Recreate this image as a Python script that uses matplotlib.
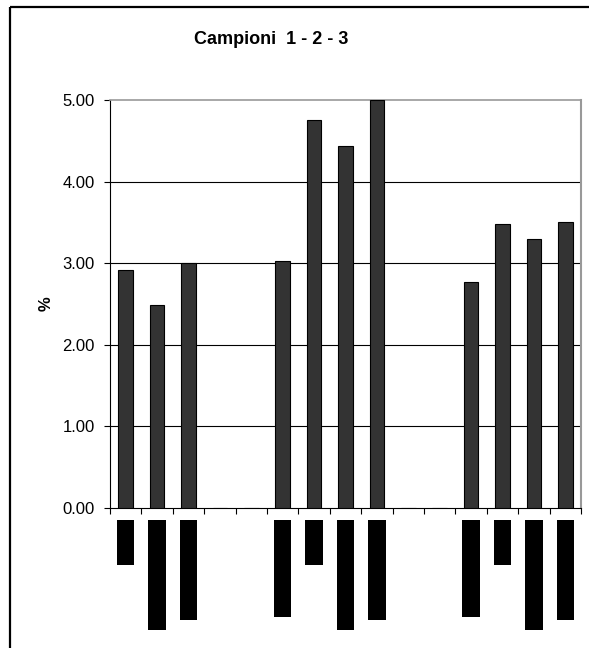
import matplotlib.pyplot as plt
import numpy as np
from matplotlib.lines import Line2D

plt.rcParams['font.family'] = ['Liberation Sans', 'DejaVu Sans']

# percent values for the 15 sample slots (empty slots = gaps)
percent = [2.92, 2.48, 3.00, 0, 0, 3.02, 4.75, 4.44, 5.00, 0, 0, 2.77, 3.48, 3.29, 3.50]
# depth of the marker under each slot (px-like units)
label_marks = [45, 110, 100, 0, 0, 97, 45, 110, 100, 0, 0, 97, 45, 110, 100]
y_ticks = [0, 1, 2, 3, 4, 5]

W, H = 589, 648
fig = plt.figure(figsize=(W / 100, H / 100), dpi=100)

# chart frame: top edge and left edge only
fx, fy = 10 / W, 1 - 6.5 / H
fig.add_artist(Line2D([fx, 1.1], [fy, fy], transform=fig.transFigure,
                      color='black', linewidth=1.6, solid_capstyle='butt'))
fig.add_artist(Line2D([fx, fx], [-0.1, fy], transform=fig.transFigure,
                      color='black', linewidth=1.6, solid_capstyle='butt'))

left, right, top, bottom = 110, 581, 100, 507.7
ax = fig.add_axes([left / W, 1 - bottom / H, (right - left) / W, (bottom - top) / H])
x = np.arange(len(percent))
ax.bar(x, percent, width=0.47, color='#333333', edgecolor='black', linewidth=0.8, zorder=3)
ax.set_xlim(-0.5, len(percent) - 0.5)
ax.set_ylim(0, 5)
ax.set_yticks(y_ticks)
ax.set_yticklabels([f'{v:.2f}' for v in y_ticks], fontsize=12)
for v in y_ticks[1:-1]:
    ax.axhline(v, color='black', linewidth=0.8, zorder=1)
ax.set_xticks(np.arange(len(percent) + 1) - 0.5)
ax.set_xticklabels([])
ax.tick_params(axis='x', length=4, width=0.8, direction='out')
ax.tick_params(axis='y', length=4, width=0.8, direction='out', pad=7)
ax.spines['top'].set_color('#999999')
ax.spines['top'].set_linewidth(1.2)
ax.spines['right'].set_color('#999999')
ax.spines['right'].set_linewidth(1.5)
ax.spines['left'].set_linewidth(0.8)
ax.spines['bottom'].set_linewidth(0.8)
ax.set_ylabel('%', fontsize=12, fontweight='bold', labelpad=6)

# markers hanging under the category axis
lab = fig.add_axes([left / W, 0, (right - left) / W, (H - 520) / H], sharex=ax)
lab.bar(x, label_marks, width=0.56, color='black', align='center')
lab.set_ylim(H - 520, 0)
lab.axis('off')

fig.text(271 / W, 1 - 40 / H, 'Campioni  1 - 2 - 3', ha='center', va='center',
         fontsize=13, fontweight='bold')

fig.savefig('out.png', dpi=100)
